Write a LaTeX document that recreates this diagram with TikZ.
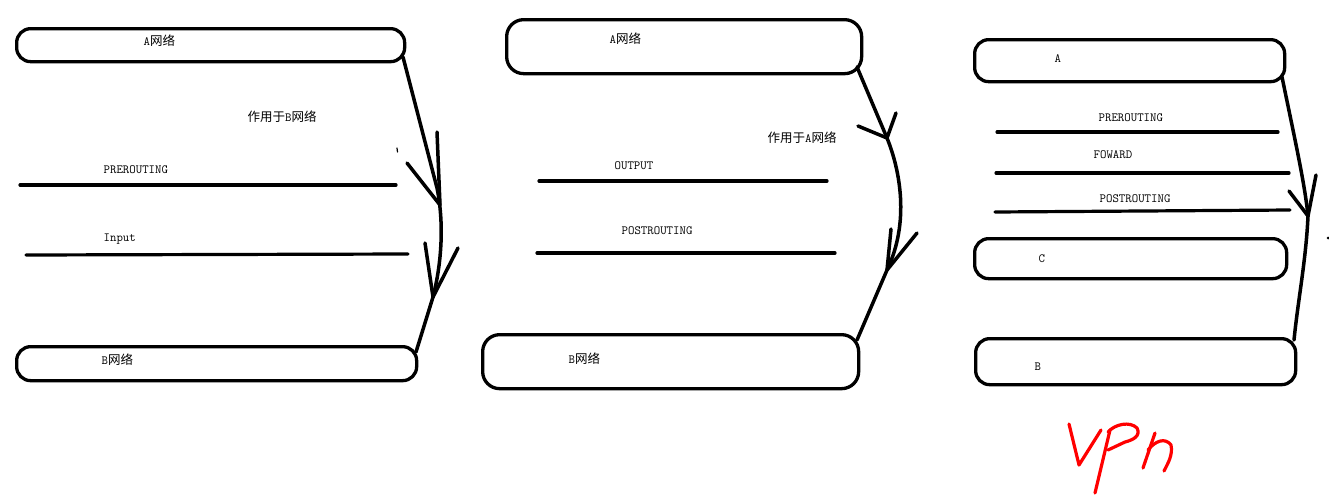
\documentclass[tikz,border=0pt]{standalone}
\usepackage{fontspec}
\newfontfamily\cjk{Noto Sans CJK SC}
\begin{document}
\begin{tikzpicture}[x=1pt,y=-1pt,line width=3.3pt,line cap=round,line join=round,
  netbox/.style={draw,line width=3.3pt,rounded corners=14pt,inner sep=0pt,anchor=north west},
  lbl/.style={anchor=west,inner sep=0pt,font=\ttfamily\fontsize{12.5}{12.5}\selectfont},
  chain/.style={line width=3.2pt},
  flow/.style={line width=3.5pt},
  hand/.style={draw=red,line width=3.2pt}]
\useasboundingbox[fill=white] (0,0) rectangle (1329,496);

% ---------- left panel ----------
\node[netbox,minimum width=388pt,minimum height=33pt] (la) at (15,27) {};
\node[netbox,minimum width=400pt,minimum height=34pt] (lb) at (15,345) {};
\node[lbl] (lat) at (142,41) {A{\cjk 网络}};
\node[lbl] (lnote) at (246,117) {{\cjk 作用于}B{\cjk 网络}};
\node[lbl] (lpre) at (102,170) {PREROUTING};
\node[lbl] (linp) at (102,239) {Input};
\node[lbl] (lbt) at (100,360) {B{\cjk 网络}};
\coordinate (l1) at (20,185); \coordinate (l2) at (396,185);
\coordinate (l3) at (26,255); \coordinate (l4) at (408,254);
\draw[chain] (l1) -- (l2);
\draw[chain] (l3) -- (l4);
\coordinate (ls) at (403,57);
\coordinate (lm1) at (440,205);
\coordinate (lm2) at (433,297);
\coordinate (le) at (416,352);
\draw[flow] (ls) -- (437,188) .. controls (444,222) and (442,262) .. (lm2) -- (le);
\draw[flow] (407,163) -- (lm1) -- (437,132);
\draw[flow] (425,243) -- (lm2) -- (458,248);
\draw[line width=1.2pt] (397,148) -- (397.5,152);

% ---------- middle panel ----------
\node[netbox,minimum width=355pt,minimum height=54pt,rounded corners=17pt] (ma) at (505,18) {};
\node[netbox,minimum width=376pt,minimum height=54pt,rounded corners=17pt] (mb) at (481,333) {};
\node[lbl] (mat) at (608,39) {A{\cjk 网络}};
\node[lbl] (mnote) at (766,138) {{\cjk 作用于}A{\cjk 网络}};
\node[lbl] (mout) at (613,166) {OUTPUT};
\node[lbl] (mpost) at (620,231) {POSTROUTING};
\node[lbl] (mbt) at (567,359) {B{\cjk 网络}};
\coordinate (m1) at (539,181); \coordinate (m2) at (827,181);
\coordinate (m3) at (537,253); \coordinate (m4) at (835,253);
\draw[chain] (m1) -- (m2);
\draw[chain] (m3) -- (m4);
\coordinate (ms) at (857,67);
\coordinate (mm1) at (887,138);
\coordinate (mm2) at (887,270);
\coordinate (me) at (857,340);
\draw[flow] (ms) -- (mm1) .. controls (900,170) and (910,222) .. (mm2) -- (me);
\draw[flow] (858,126) -- (mm1) -- (896,113);
\draw[flow] (891,229) -- (mm2) -- (917,233);

% ---------- right panel ----------
\node[netbox,minimum width=310pt,minimum height=42pt] (ra) at (973,38) {};
\node[netbox,minimum width=312pt,minimum height=40pt] (rc) at (973,237) {};
\node[netbox,minimum width=320pt,minimum height=46pt] (rb) at (974,337) {};
\node[lbl] (rat) at (1053,59) {A};
\node[lbl] (rpre) at (1097,118) {PREROUTING};
\node[lbl] (rfow) at (1092,155) {FOWARD};
\node[lbl] (rpost) at (1098,199) {POSTROUTING};
\node[lbl] (rct) at (1037,259) {C};
\node[lbl] (rbt) at (1033,367) {B};
\coordinate (r1) at (997,132); \coordinate (r2) at (1278,132);
\coordinate (r3) at (996,173); \coordinate (r4) at (1289,173);
\coordinate (r5) at (995,212); \coordinate (r6) at (1290,210);
\draw[chain] (r1) -- (r2);
\draw[chain] (r3) -- (r4);
\draw[chain] (r5) -- (r6);
\coordinate (rs) at (1282,77);
\coordinate (rm) at (1308,216);
\coordinate (re) at (1294,340);
\draw[flow] (rs) .. controls (1295,140) and (1305,185) .. (rm) .. controls (1306,260) and (1298,300) .. (re);
\draw[flow] (1289,191) -- (rm) -- (1316,175);
\fill (1328,238) circle (1.5pt);

% ---------- VPN (handwritten) ----------
\draw[hand] (1069,424) -- (1079,465) -- (1101,430);
\draw[hand] (1110,430) -- (1095,493);
\draw[hand] (1108,432) .. controls (1115,424) and (1130,421) .. (1137,428)
  .. controls (1141,436) and (1133,440) .. (1125,442) -- (1108,450);
\draw[hand] (1155,433) -- (1143,468);
\draw[hand] (1148,450) .. controls (1155,441) and (1165,437) .. (1171,445)
  .. controls (1173,455) and (1168,463) .. (1164,471);
\end{tikzpicture}
\end{document}
